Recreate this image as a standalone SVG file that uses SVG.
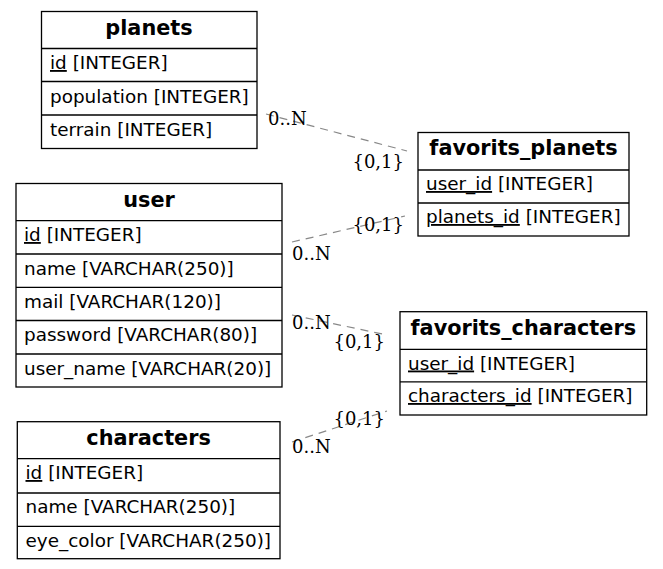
<svg xmlns="http://www.w3.org/2000/svg" width="663" height="569" viewBox="0 0 663 569">
<style>
.box{fill:#fff;stroke:#000;stroke-width:1.3}
.sep{stroke:#000;stroke-width:1.3}
.t{font-family:"DejaVu Sans",sans-serif;font-size:20.8px;font-weight:bold;text-anchor:middle;fill:#000}
.f{font-family:"DejaVu Sans",sans-serif;font-size:18.4px;fill:#000}
.u{text-decoration:underline}
.e{fill:none;stroke:#888;stroke-width:1.2;stroke-dasharray:8,6}
.l{font-family:"DejaVu Serif",serif;font-size:18px;fill:#000}
.r{text-anchor:end}
</style>
<rect width="663" height="569" fill="#fff"/>
<g id="connectors">
<line class="e" x1="266" y1="114" x2="407" y2="151"/>
<line class="e" x1="292" y1="242" x2="405" y2="216"/>
<line class="e" x1="292" y1="315" x2="387" y2="335"/>
<line class="e" x1="292" y1="442" x2="387" y2="411"/>
<text class="l" x="268" y="125">0..N</text>
<text class="l r" x="404" y="168">{0,1}</text>
<text class="l r" x="404" y="231">{0,1}</text>
<text class="l" x="292" y="260">0..N</text>
<text class="l" x="292" y="329">0..N</text>
<text class="l r" x="385" y="348">{0,1}</text>
<text class="l r" x="385" y="425">{0,1}</text>
<text class="l" x="292" y="453">0..N</text>
</g>
<g id="planets">
<rect class="box" x="41.5" y="11.5" width="215.5" height="137"/>
<line class="sep" x1="41.5" y1="48.5" x2="257" y2="48.5"/>
<line class="sep" x1="41.5" y1="81.5" x2="257" y2="81.5"/>
<line class="sep" x1="41.5" y1="115" x2="257" y2="115"/>
<text class="t" x="149" y="35">planets</text>
<text class="f" x="50" y="69"><tspan class="u">id</tspan> [INTEGER]</text>
<text class="f" x="50" y="102.5">population [INTEGER]</text>
<text class="f" x="50" y="136">terrain [INTEGER]</text>
</g>
<g id="favorits_planets">
<rect class="box" x="418" y="132.5" width="211" height="103.5"/>
<line class="sep" x1="418" y1="170" x2="629" y2="170"/>
<line class="sep" x1="418" y1="203" x2="629" y2="203"/>
<text class="t" x="523.5" y="155">favorits_planets</text>
<text class="f" x="426" y="190"><tspan class="u">user_id</tspan> [INTEGER]</text>
<text class="f" x="426" y="223"><tspan class="u">planets_id</tspan> [INTEGER]</text>
</g>
<g id="user">
<rect class="box" x="16" y="183.5" width="266" height="203.5"/>
<line class="sep" x1="16" y1="220.7" x2="282" y2="220.7"/>
<line class="sep" x1="16" y1="254" x2="282" y2="254"/>
<line class="sep" x1="16" y1="287.3" x2="282" y2="287.3"/>
<line class="sep" x1="16" y1="320.5" x2="282" y2="320.5"/>
<line class="sep" x1="16" y1="354" x2="282" y2="354"/>
<text class="t" x="149" y="207">user</text>
<text class="f" x="24" y="241"><tspan class="u">id</tspan> [INTEGER]</text>
<text class="f" x="24" y="274.5">name [VARCHAR(250)]</text>
<text class="f" x="24" y="308">mail [VARCHAR(120)]</text>
<text class="f" x="24" y="341">password [VARCHAR(80)]</text>
<text class="f" x="24" y="374.5">user_name [VARCHAR(20)]</text>
</g>
<g id="favorits_characters">
<rect class="box" x="400" y="311.7" width="246.7" height="103.3"/>
<line class="sep" x1="400" y1="349.3" x2="646.7" y2="349.3"/>
<line class="sep" x1="400" y1="381.8" x2="646.7" y2="381.8"/>
<text class="t" x="523.3" y="334.5">favorits_characters</text>
<text class="f" x="408" y="369.5"><tspan class="u">user_id</tspan> [INTEGER]</text>
<text class="f" x="408" y="402"><tspan class="u">characters_id</tspan> [INTEGER]</text>
</g>
<g id="characters">
<rect class="box" x="17.3" y="421.7" width="262.7" height="137"/>
<line class="sep" x1="17.3" y1="458.7" x2="280" y2="458.7"/>
<line class="sep" x1="17.3" y1="493" x2="280" y2="493"/>
<line class="sep" x1="17.3" y1="526.3" x2="280" y2="526.3"/>
<text class="t" x="148.6" y="445">characters</text>
<text class="f" x="25.5" y="479"><tspan class="u">id</tspan> [INTEGER]</text>
<text class="f" x="25.5" y="513">name [VARCHAR(250)]</text>
<text class="f" x="25.5" y="546.5">eye_color [VARCHAR(250)]</text>
</g>
</svg>
